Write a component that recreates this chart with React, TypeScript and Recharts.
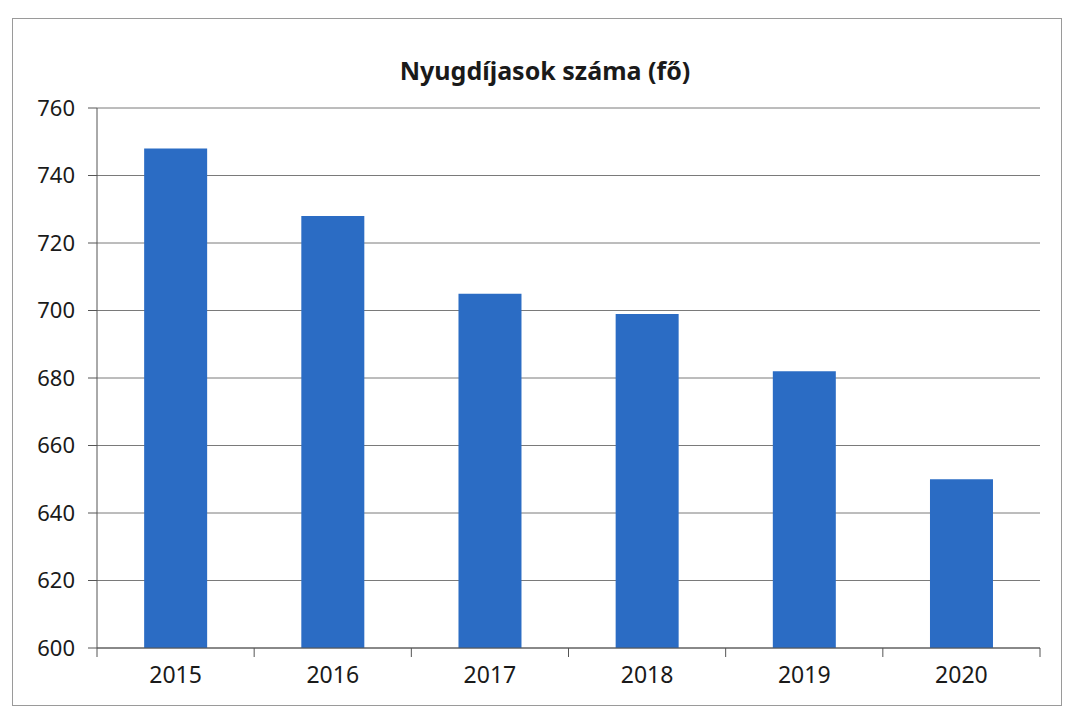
import { BarChart, Bar, XAxis, YAxis, CartesianGrid } from "recharts";

const YEARS = ["2015", "2016", "2017", "2018", "2019", "2020"];
const PENSIONERS = [748, 728, 705, 699, 682, 650];
const Y_TICKS = [600, 620, 640, 660, 680, 700, 720, 740, 760];

const TITLE = "Nyugdíjasok száma (fő)";

const W = 1076;
const H = 718;
const M = { top: 108, right: 36, left: 0, bottom: 30 };
const Y_W = 97;
const BAR = "#2b6cc4";
const INK = "#1a1a1a";
const LINE = "#555";
const GRID = "#7a7a7a";
const FONT = "'Noto Sans', 'Open Sans', sans-serif";

const data = YEARS.map((year, i) => ({ year, value: PENSIONERS[i] }));

// category axis tick: label centered, plus tick marks on the band edges (Excel style)
function YearTick(props: any) {
  const { x, y, payload, index } = props;
  const band = (W - M.left - M.right - Y_W) / YEARS.length;
  const axisY = y - 8;
  return (
    <g>
      <line x1={x - band / 2} x2={x - band / 2} y1={axisY} y2={axisY + 9} stroke={LINE} />
      {index === YEARS.length - 1 ? (
        <line x1={x + band / 2} x2={x + band / 2} y1={axisY} y2={axisY + 9} stroke={LINE} />
      ) : null}
      <text x={x} y={y + 27} textAnchor="middle" fill={INK} fontSize={23} fontFamily={FONT}>
        {payload.value}
      </text>
    </g>
  );
}

export default function App() {
  return (
    <div style={{ position: "absolute", left: 0, top: 0, width: W, height: H, background: "#fff" }}>
      <div
        style={{
          position: "absolute",
          left: 12,
          top: 18,
          width: 1050,
          height: 688,
          border: "1px solid #9a9a9a",
          boxSizing: "border-box",
        }}
      />
      <div
        style={{
          position: "absolute",
          left: 0,
          width: 1090,
          top: 53,
          textAlign: "center",
          fontFamily: FONT,
          fontWeight: 700,
          fontSize: 25,
          color: INK,
        }}
      >
        {TITLE}
      </div>
      <div style={{ position: "absolute", left: 0, top: 0 }}>
        <BarChart width={W} height={H} data={data} margin={M} barCategoryGap="30%">
          <CartesianGrid horizontal vertical={false} stroke={GRID} />
          <XAxis
            dataKey="year"
            height={40}
            axisLine={{ stroke: LINE }}
            tickLine={false}
            tick={<YearTick />}
            interval={0}
          />
          <YAxis
            width={Y_W}
            domain={[600, 760]}
            ticks={Y_TICKS}
            interval={0}
            allowDataOverflow
            axisLine={{ stroke: LINE }}
            tickLine={{ stroke: LINE }}
            tickSize={9}
            tickMargin={13}
            tick={{ fill: INK, fontSize: 22, fontFamily: FONT }}
          />
          <Bar dataKey="value" fill={BAR} isAnimationActive={false} />
        </BarChart>
      </div>
    </div>
  );
}
